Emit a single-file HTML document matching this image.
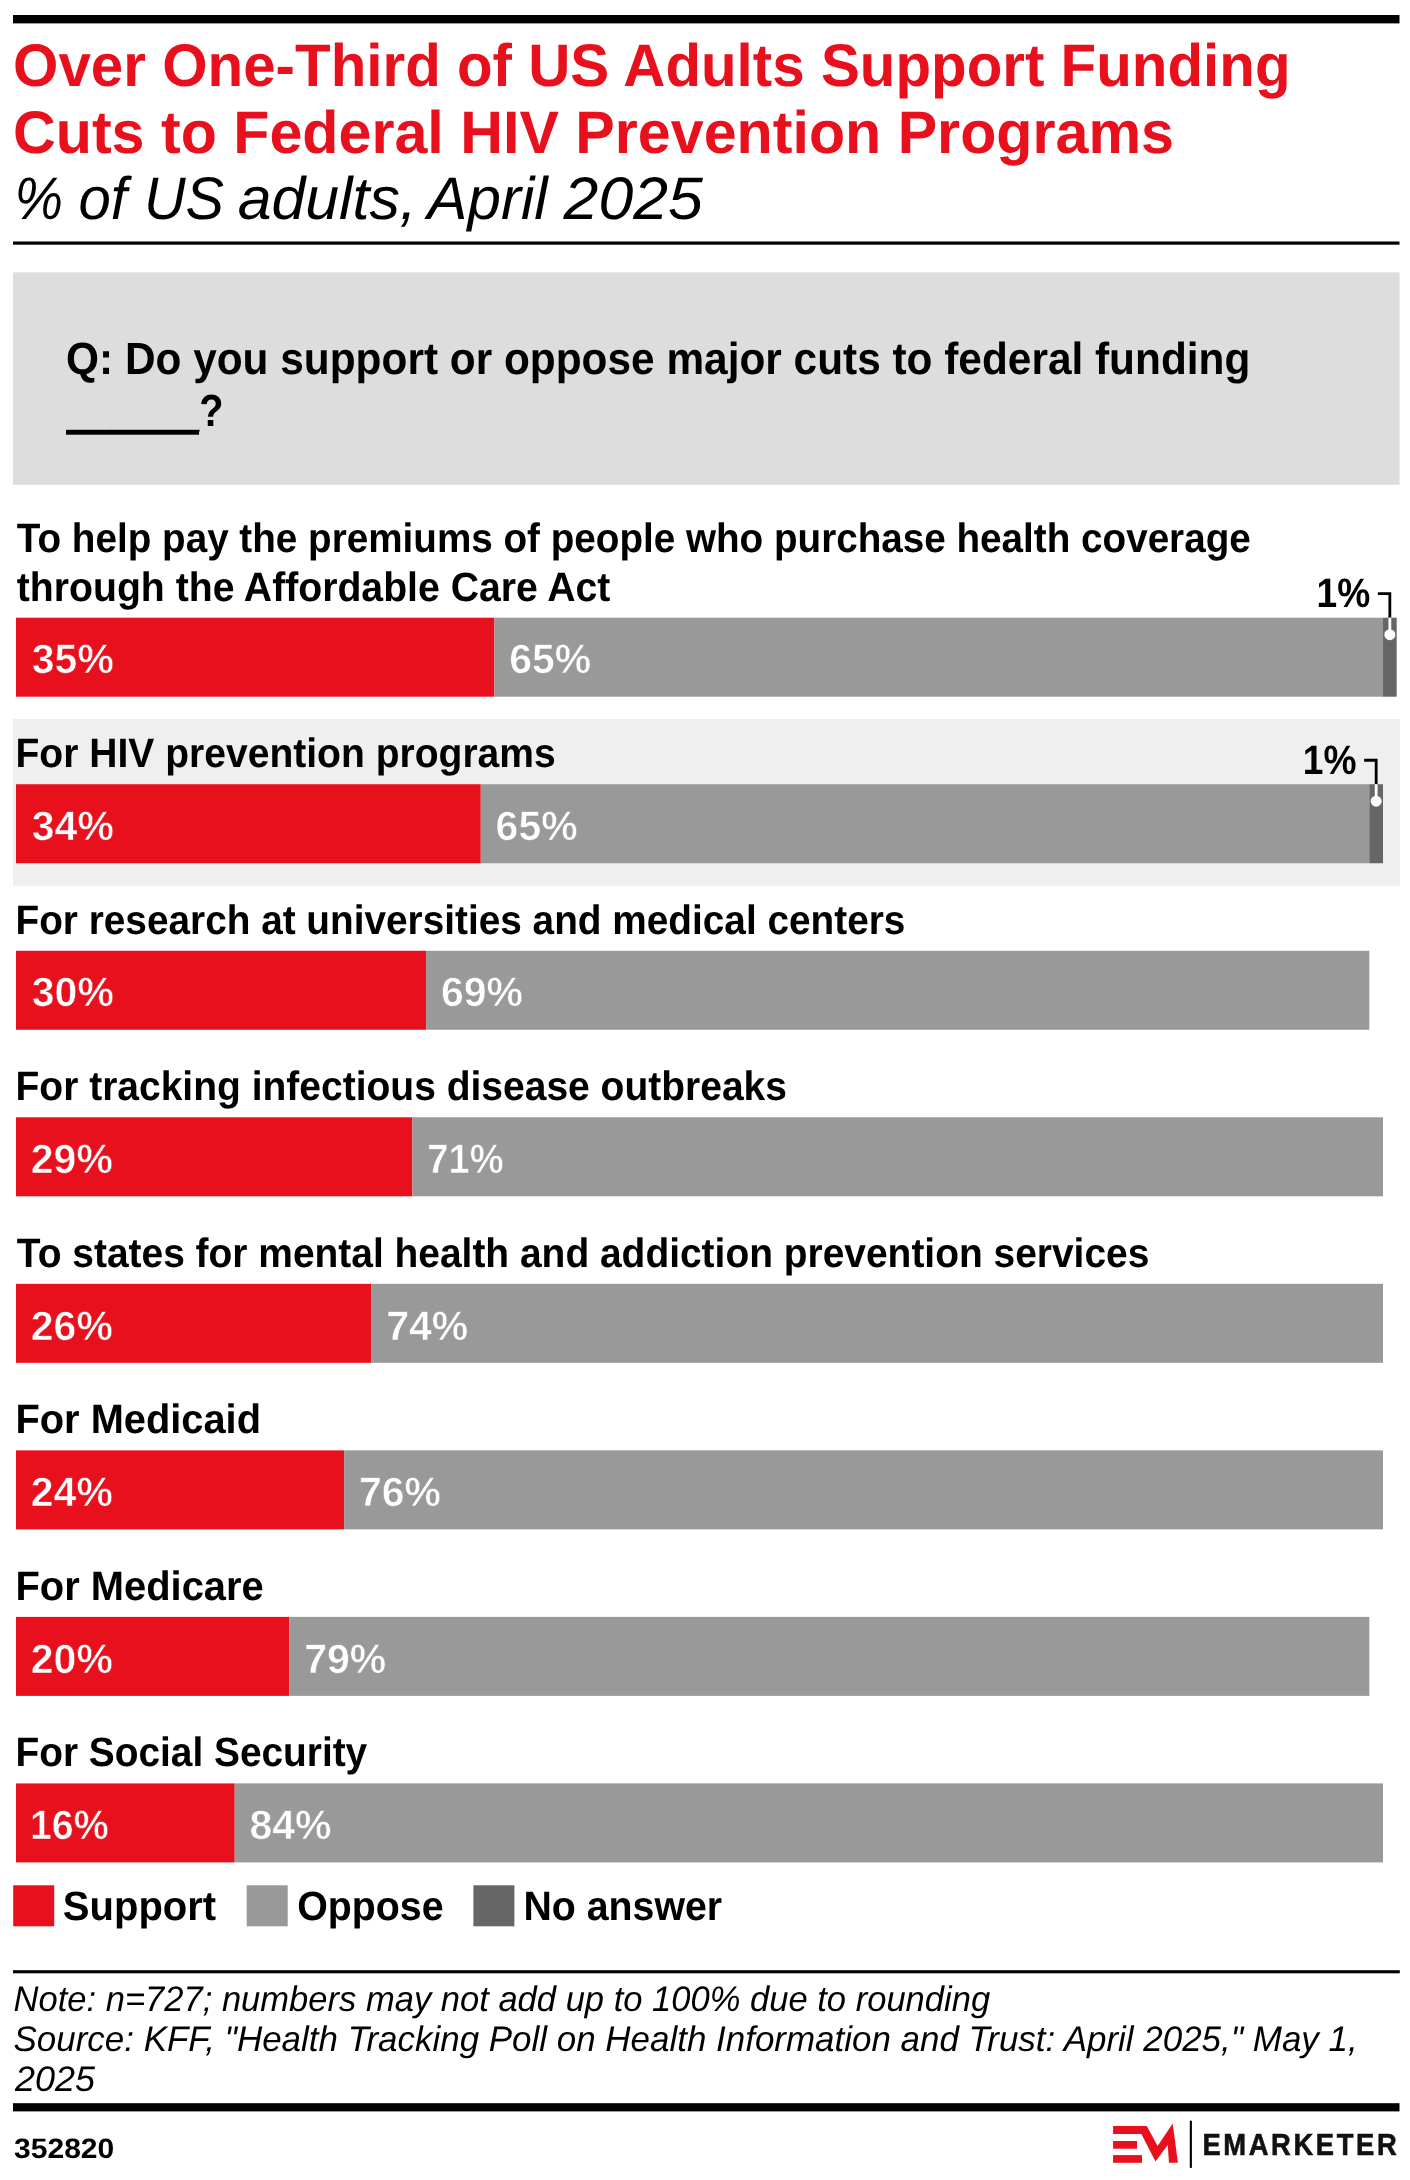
<!DOCTYPE html>
<html lang="en"><head><meta charset="utf-8"><title>Over One-Third of US Adults Support Funding Cuts to Federal HIV Prevention Programs</title>
<style>
html,body{margin:0;padding:0;background:#fff;}
svg{display:block;font-family:'Liberation Sans', Arial, sans-serif;font-weight:bold;}
text{text-rendering:geometricPrecision;}
svg{will-change:transform;}
</style></head><body>
<svg width="1410" height="2180" viewBox="0 0 1410 2180">
<rect width="1410" height="2180" fill="#fff"/>
<rect x="13" y="15" width="1386.5" height="8.4" fill="#000"/>
<rect x="13" y="241.5" width="1386.5" height="3.2" fill="#000"/>
<rect x="13" y="272.4" width="1386.5" height="212.4" fill="#DDDDDD"/>
<rect x="13" y="719" width="1387" height="167" fill="#EFEFEF"/>
<rect x="66" y="430" width="133" height="4.7" fill="#000"/>
<rect x="16.00" y="617.70" width="478.45" height="79.0" fill="#E8101D"/>
<rect x="494.45" y="617.70" width="888.55" height="79.0" fill="#999999"/>
<rect x="1383.00" y="617.70" width="13.67" height="79.0" fill="#666666"/>
<path d="M1377.84 593.70H1389.84V617.70" fill="none" stroke="#000" stroke-width="2.8"/>
<path d="M1389.84 617.70V634.70" fill="none" stroke="#fff" stroke-width="2.8"/>
<circle cx="1389.84" cy="634.70" r="5.5" fill="#fff"/>
<rect x="16.00" y="784.23" width="464.78" height="79.0" fill="#E8101D"/>
<rect x="480.78" y="784.23" width="888.55" height="79.0" fill="#999999"/>
<rect x="1369.33" y="784.23" width="13.67" height="79.0" fill="#666666"/>
<path d="M1364.16 760.23H1376.16V784.23" fill="none" stroke="#000" stroke-width="2.8"/>
<path d="M1376.16 784.23V801.23" fill="none" stroke="#fff" stroke-width="2.8"/>
<circle cx="1376.16" cy="801.23" r="5.5" fill="#fff"/>
<rect x="16.00" y="950.76" width="410.10" height="79.0" fill="#E8101D"/>
<rect x="426.10" y="950.76" width="943.23" height="79.0" fill="#999999"/>
<rect x="16.00" y="1117.29" width="396.43" height="79.0" fill="#E8101D"/>
<rect x="412.43" y="1117.29" width="970.57" height="79.0" fill="#999999"/>
<rect x="16.00" y="1283.82" width="355.42" height="79.0" fill="#E8101D"/>
<rect x="371.42" y="1283.82" width="1011.58" height="79.0" fill="#999999"/>
<rect x="16.00" y="1450.35" width="328.08" height="79.0" fill="#E8101D"/>
<rect x="344.08" y="1450.35" width="1038.92" height="79.0" fill="#999999"/>
<rect x="16.00" y="1616.88" width="273.40" height="79.0" fill="#E8101D"/>
<rect x="289.40" y="1616.88" width="1079.93" height="79.0" fill="#999999"/>
<rect x="16.00" y="1783.41" width="218.72" height="79.0" fill="#E8101D"/>
<rect x="234.72" y="1783.41" width="1148.28" height="79.0" fill="#999999"/>
<rect x="13.2" y="1885.3" width="41" height="41" fill="#E8101D"/>
<rect x="246.7" y="1885.3" width="41" height="41" fill="#999999"/>
<rect x="473.4" y="1885.3" width="41" height="41" fill="#666666"/>
<rect x="13" y="1970.2" width="1386.8" height="3.1" fill="#000"/>
<rect x="13" y="2103.2" width="1386.5" height="8.2" fill="#000"/>
<path d="M1113.1 2126.1H1146.8L1157.6 2146L1172.7 2123.4L1177.9 2162.8H1169L1167.7 2145L1155.5 2161.5L1141.4 2134H1113.1Z" fill="#E8101D"/>
<rect x="1113.1" y="2141" width="23.9" height="7.7" fill="#E8101D"/>
<rect x="1113.1" y="2155.1" width="28.9" height="7.7" fill="#E8101D"/>
<rect x="1189.8" y="2120.7" width="2.1" height="47.2" fill="#000"/>
<text x="13.06" y="86.00" font-size="60" fill="#E8101D" textLength="1277.48" lengthAdjust="spacingAndGlyphs">Over One-Third of US Adults Support Funding</text>
<text x="13.03" y="152.70" font-size="60" fill="#E8101D" textLength="1160.91" lengthAdjust="spacingAndGlyphs">Cuts to Federal HIV Prevention Programs</text>
<text x="14.57" y="219.00" font-size="60" font-weight="normal" font-style="italic" textLength="48.47" lengthAdjust="spacingAndGlyphs">%</text>
<text x="78.53" y="219.00" font-size="60" font-weight="normal" font-style="italic" textLength="48.41" lengthAdjust="spacingAndGlyphs">of</text>
<text x="143.96" y="219.00" font-size="60" font-weight="normal" font-style="italic" textLength="80.06" lengthAdjust="spacingAndGlyphs">US</text>
<text x="237.69" y="219.00" font-size="60" font-weight="normal" font-style="italic" textLength="179.07" lengthAdjust="spacingAndGlyphs">adults,</text>
<text x="427.31" y="219.00" font-size="60" font-weight="normal" font-style="italic" textLength="120.42" lengthAdjust="spacingAndGlyphs">April</text>
<text x="563.64" y="219.00" font-size="60" font-weight="normal" font-style="italic" textLength="139.20" lengthAdjust="spacingAndGlyphs">2025</text>
<text x="66.06" y="373.60" font-size="45" textLength="1184.28" lengthAdjust="spacingAndGlyphs">Q: Do you support or oppose major cuts to federal funding</text>
<text x="66.88" y="426.00" font-size="45" textLength="156.61" lengthAdjust="spacingAndGlyphs">______?</text>
<text x="16.80" y="600.70" font-size="41" textLength="593.57" lengthAdjust="spacingAndGlyphs">through the Affordable Care Act</text>
<text x="16.80" y="552.10" font-size="41" textLength="1233.96" lengthAdjust="spacingAndGlyphs">To help pay the premiums of people who purchase health coverage</text>
<text x="1316.52" y="607.20" font-size="41" textLength="53.73" lengthAdjust="spacingAndGlyphs">1%</text>
<text x="31.80" y="673.40" font-size="41" fill="#fff" stroke="#E8101D" stroke-width="0.6">35%</text>
<text x="509.25" y="673.40" font-size="41" fill="#fff" stroke="#999999" stroke-width="0.6">65%</text>
<text x="15.50" y="767.23" font-size="41" textLength="540.27" lengthAdjust="spacingAndGlyphs">For HIV prevention programs</text>
<text x="1302.85" y="773.73" font-size="41" textLength="53.73" lengthAdjust="spacingAndGlyphs">1%</text>
<text x="31.80" y="839.93" font-size="41" fill="#fff" stroke="#E8101D" stroke-width="0.6">34%</text>
<text x="495.58" y="839.93" font-size="41" fill="#fff" stroke="#999999" stroke-width="0.6">65%</text>
<text x="15.51" y="933.76" font-size="41" textLength="889.85" lengthAdjust="spacingAndGlyphs">For research at universities and medical centers</text>
<text x="31.80" y="1006.46" font-size="41" fill="#fff" stroke="#E8101D" stroke-width="0.6">30%</text>
<text x="440.90" y="1006.46" font-size="41" fill="#fff" stroke="#999999" stroke-width="0.6">69%</text>
<text x="15.50" y="1100.29" font-size="41" textLength="771.47" lengthAdjust="spacingAndGlyphs">For tracking infectious disease outbreaks</text>
<text x="30.80" y="1172.99" font-size="41" fill="#fff" stroke="#E8101D" stroke-width="0.6">29%</text>
<text x="427.30" y="1172.99" font-size="41" fill="#fff" stroke="#999999" stroke-width="0.6" textLength="76.35" lengthAdjust="spacingAndGlyphs">71%</text>
<text x="16.80" y="1266.82" font-size="41" textLength="1132.56" lengthAdjust="spacingAndGlyphs">To states for mental health and addiction prevention services</text>
<text x="30.80" y="1339.52" font-size="41" fill="#fff" stroke="#E8101D" stroke-width="0.6">26%</text>
<text x="386.22" y="1339.52" font-size="41" fill="#fff" stroke="#999999" stroke-width="0.6">74%</text>
<text x="15.46" y="1433.35" font-size="41" textLength="245.53" lengthAdjust="spacingAndGlyphs">For Medicaid</text>
<text x="30.80" y="1506.05" font-size="41" fill="#fff" stroke="#E8101D" stroke-width="0.6">24%</text>
<text x="358.88" y="1506.05" font-size="41" fill="#fff" stroke="#999999" stroke-width="0.6">76%</text>
<text x="15.45" y="1599.88" font-size="41" textLength="248.33" lengthAdjust="spacingAndGlyphs">For Medicare</text>
<text x="30.80" y="1672.58" font-size="41" fill="#fff" stroke="#E8101D" stroke-width="0.6">20%</text>
<text x="304.20" y="1672.58" font-size="41" fill="#fff" stroke="#999999" stroke-width="0.6">79%</text>
<text x="15.51" y="1766.41" font-size="41" textLength="351.71" lengthAdjust="spacingAndGlyphs">For Social Security</text>
<text x="29.88" y="1839.11" font-size="41" fill="#fff" stroke="#E8101D" stroke-width="0.6" textLength="78.86" lengthAdjust="spacingAndGlyphs">16%</text>
<text x="249.52" y="1839.11" font-size="41" fill="#fff" stroke="#999999" stroke-width="0.6">84%</text>
<text x="62.82" y="1920.30" font-size="41" textLength="153.34" lengthAdjust="spacingAndGlyphs">Support</text>
<text x="297.14" y="1920.30" font-size="41" textLength="146.43" lengthAdjust="spacingAndGlyphs">Oppose</text>
<text x="523.48" y="1920.30" font-size="41" textLength="198.67" lengthAdjust="spacingAndGlyphs">No answer</text>
<text x="13.53" y="2011.00" font-size="35.5" font-weight="normal" font-style="italic" textLength="976.62" lengthAdjust="spacingAndGlyphs">Note: n=727; numbers may not add up to 100% due to rounding</text>
<text x="13.52" y="2051.40" font-size="35.5" font-weight="normal" font-style="italic" textLength="1344.18" lengthAdjust="spacingAndGlyphs">Source: KFF, &quot;Health Tracking Poll on Health Information and Trust: April 2025,&quot; May 1,</text>
<text x="15.01" y="2091.00" font-size="35.5" font-weight="normal" font-style="italic" textLength="80.03" lengthAdjust="spacingAndGlyphs">2025</text>
<text x="14.00" y="2158.00" font-size="28" textLength="100.31" lengthAdjust="spacingAndGlyphs">352820</text>
<text transform="translate(1202.40 2155.00) scale(0.9 1)" font-size="30.4" letter-spacing="2.93" fill="#111" stroke="#111" stroke-width="0.6">EMARKETER</text>
</svg>
</body></html>
